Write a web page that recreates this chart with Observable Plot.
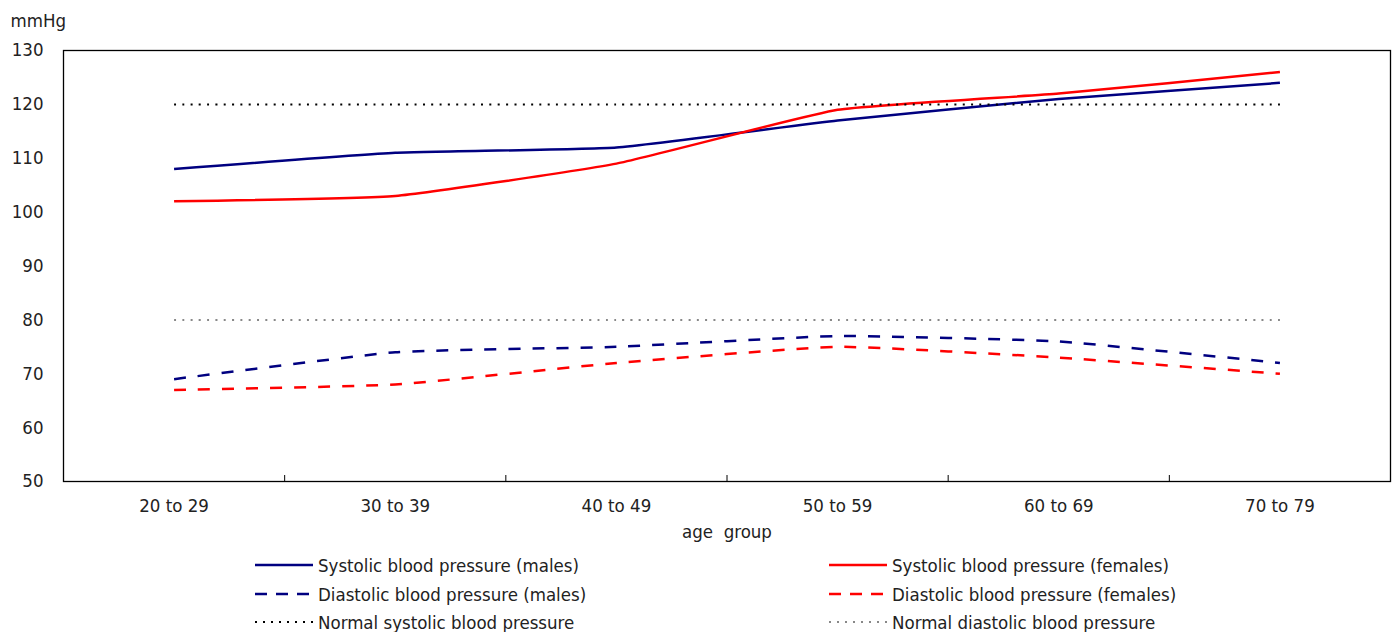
<!DOCTYPE html>
<html>
<head>
<meta charset="utf-8">
<script src="https://cdn.jsdelivr.net/npm/d3@7"></script>
<script src="https://cdn.jsdelivr.net/npm/@observablehq/plot@0.6"></script>
<style>
  html, body { margin: 0; padding: 0; background: #fff; }
  body { width: 1392px; height: 632px; overflow: hidden; font-family: "Liberation Sans Narrow", "DejaVu Sans Condensed", sans-serif; color: #222; }
  #chart { position: relative; }
  .legend { position: relative; height: 90px; font-size: 18.5px; }
  .item { position: absolute; display: flex; align-items: center; height: 24px; white-space: nowrap; }
  .item svg { margin-right: 5px; }
</style>
</head>
<body>
<div id="chart"></div>
<div class="legend" id="legend"></div>
<script>
const categories = ["20 to 29", "30 to 39", "40 to 49", "50 to 59", "60 to 69", "70 to 79"];
const systolicMales = [108, 111, 112, 117, 121, 124];
const systolicFemales = [102, 103, 109, 119, 122, 126];
const diastolicMales = [69, 74, 75, 77, 76, 72];
const diastolicFemales = [67, 68, 72, 75, 73, 70];
const normalSystolic = 120;
const normalDiastolic = 80;
const yTicks = [50, 60, 70, 80, 90, 100, 110, 120, 130];

const seriesDefs = [
  {name: "Systolic blood pressure (males)", values: systolicMales, stroke: "#000080", dash: null, width: 2.5},
  {name: "Systolic blood pressure (females)", values: systolicFemales, stroke: "#ff0000", dash: null, width: 2.5},
  {name: "Diastolic blood pressure (males)", values: diastolicMales, stroke: "#000080", dash: "12,12", width: 2.5},
  {name: "Diastolic blood pressure (females)", values: diastolicFemales, stroke: "#ff0000", dash: "12,12", width: 2.5},
  {name: "Normal systolic blood pressure", values: categories.map(() => normalSystolic), stroke: "#000", dash: "2,6.3", width: 2},
  {name: "Normal diastolic blood pressure", values: categories.map(() => normalDiastolic), stroke: "#888", dash: "2,6.3", width: 2}
];

const idx = categories.map((c, i) => i);
const boundaries = idx.slice(0, -1).map(i => i + 0.5);
const FONT = '"Liberation Sans Narrow", "DejaVu Sans Condensed", sans-serif';

const lineMarks = seriesDefs.map(s => Plot.line(
  s.values.map((v, i) => ({x: i, y: v})),
  {x: "x", y: "y", stroke: s.stroke, strokeWidth: s.width, strokeDasharray: s.dash,
   curve: d3.curveCardinal.tension(0.6), strokeLinecap: "butt"}
));

const plot = Plot.plot({
  width: 1392,
  height: 548,
  marginLeft: 63,
  marginRight: 2,
  marginTop: 50,
  marginBottom: 67,
  style: {fontFamily: FONT, fontSize: "18.5px", color: "#222", background: "#fff"},
  x: {domain: [-0.5, categories.length - 0.5], axis: null, label: null},
  y: {domain: [50, 130], axis: null, label: null},
  marks: [
    Plot.axisY({ticks: yTicks, tickSize: 0, tickPadding: 20, fontSize: 18.5, fill: "#222", label: null}),
    Plot.axisX({ticks: idx, tickSize: 0, tickPadding: 17, tickFormat: i => categories[i], fontSize: 18.5, fill: "#222", label: null}),
    Plot.axisX({ticks: boundaries, tickSize: -6, tickFormat: () => "", stroke: "#000", label: null}),
    ...lineMarks,
    Plot.frame({stroke: "#000", strokeWidth: 1.3}),
    Plot.text(["age  group"], {frameAnchor: "bottom", dy: 56, fill: "#222", fontSize: 18.5, textAnchor: "middle"}),
    Plot.text(["mmHg"], {frameAnchor: "top-left", dx: -53, dy: -37, fill: "#222", fontSize: 18.5, textAnchor: "start"})
  ]
});
document.getElementById("chart").appendChild(plot);

// Legend
const legend = document.getElementById("legend");
const positions = [
  [255, 5], [829, 5], [255, 34], [829, 34], [255, 62], [829, 62]
];
seriesDefs.forEach((s, j) => {
  const [left, top] = positions[j];
  const item = document.createElement("div");
  item.className = "item";
  item.style.left = left + "px";
  item.style.top = top + "px";
  const sw = d3.create("svg").attr("width", 58).attr("height", 10);
  sw.append("line").attr("x1", 0).attr("x2", 58).attr("y1", 5).attr("y2", 5)
    .attr("stroke", s.stroke).attr("stroke-width", s.width)
    .attr("stroke-dasharray", s.dash === "12,12" ? "12,9" : s.dash === "2,6.3" ? "2,6" : null);
  item.appendChild(sw.node());
  const t = document.createElement("span");
  t.textContent = s.name;
  item.appendChild(t);
  legend.appendChild(item);
});
</script>
</body>
</html>
